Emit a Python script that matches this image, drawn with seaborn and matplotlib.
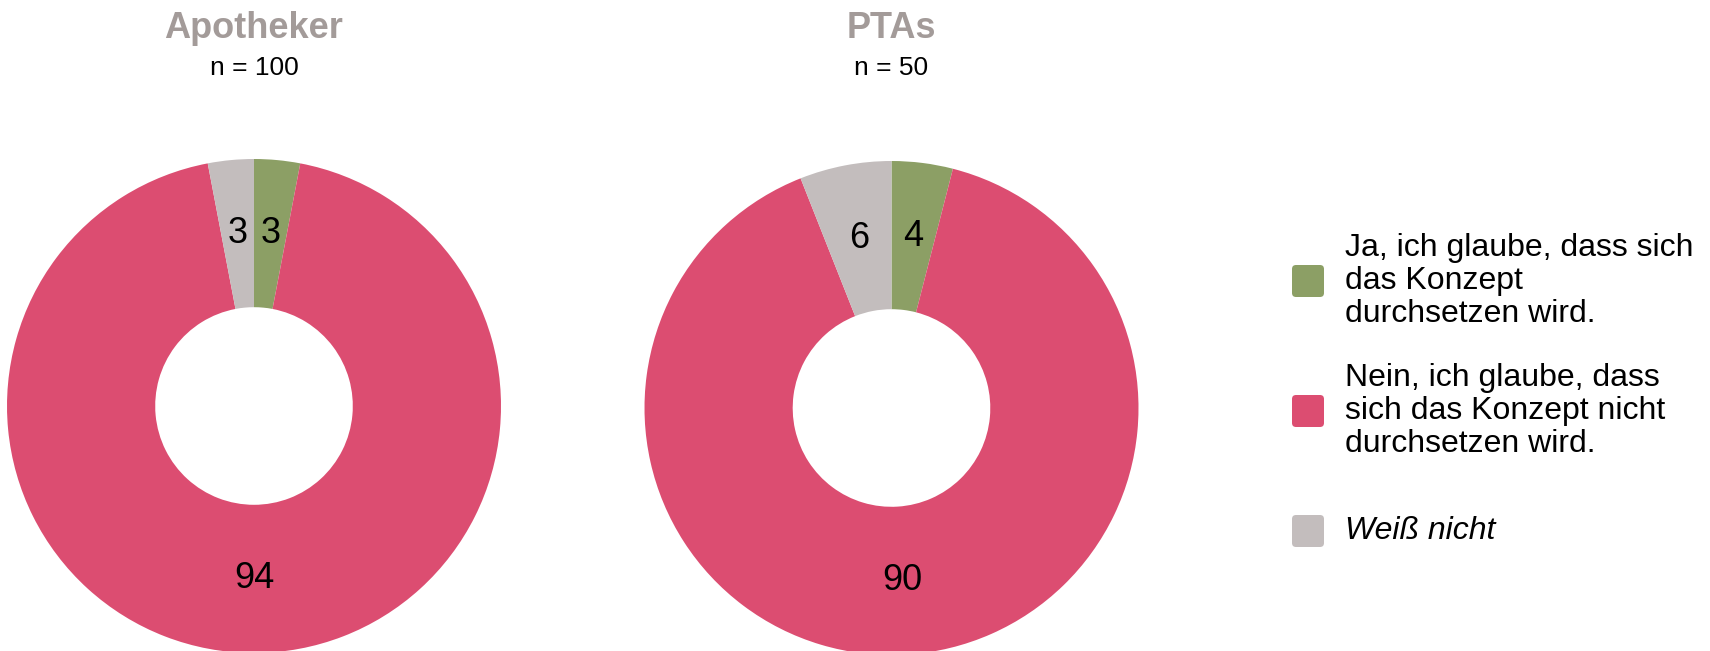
import matplotlib
matplotlib.use("Agg")
import matplotlib.pyplot as plt
import seaborn as sns
from matplotlib.patches import FancyBboxPatch

# data
groups = ["Apotheker", "PTAs"]
group_n = ["n = 100", "n = 50"]
answers = ["Ja, ich glaube, dass sich\ndas Konzept\ndurchsetzen wird.",
           "Nein, ich glaube, dass\nsich das Konzept nicht\ndurchsetzen wird.",
           "Weiß nicht"]
apotheker_vals = [3, 94, 3]
pta_vals = [4, 90, 6]
values = [apotheker_vals, pta_vals]

colors = ["#8c9f65", "#dc4d71", "#c3bdbd"]
title_color = "#a39b99"

sns.set_style("white")
plt.rcParams["font.family"] = ["Liberation Sans", "DejaVu Sans"]
plt.rcParams["text.color"] = "black"

W, H = 1710, 651
fig = plt.figure(figsize=(W / 100, H / 100), dpi=100)

# donut centres / radius in pixels (from top-left)
centres = [(254, 406), (891.5, 408)]
R = 247

for i, (name, n, vals) in enumerate(zip(groups, group_n, values)):
    cx, cy = centres[i]
    ax = fig.add_axes([(cx - R) / W, (H - cy - R) / H, 2 * R / W, 2 * R / H])
    ax.pie(vals, colors=colors, startangle=90, counterclock=False, radius=1,
           wedgeprops=dict(width=0.6, linewidth=0),
           autopct=lambda p: f"{p:.0f}", pctdistance=0.7,
           textprops=dict(fontsize=26, color="black"))
    ax.set_xlim(-1, 1)
    ax.set_ylim(-1, 1)
    ax.set_aspect("equal")
    ax.axis("off")

    fig.text(cx / W, (H - 38) / H, name, ha="center", va="baseline",
             fontsize=26, fontweight="bold", color=title_color)
    fig.text(cx / W, (H - 75) / H, n, ha="center", va="baseline",
             fontsize=19, color="black")

# legend, drawn by hand to keep the uneven spacing
leg_y = [281, 411, 531]
box = 0.32
for lab, col, y in zip(answers, colors, leg_y):
    x_in = 1308 / 100
    y_in = (H - y) / 100
    fig.patches.append(FancyBboxPatch((x_in - box / 2 + 0.04, y_in - box / 2 + 0.04),
                                      box - 0.08, box - 0.08,
                                      boxstyle="round,pad=0.04",
                                      transform=fig.dpi_scale_trans,
                                      facecolor=col, edgecolor="none"))
    fig.text(1345 / W, (H - y) / H, lab, ha="left", va="center", fontsize=23,
             linespacing=1.12, color="black",
             style="italic" if lab == "Weiß nicht" else "normal")

fig.savefig("out.png", dpi=100)
